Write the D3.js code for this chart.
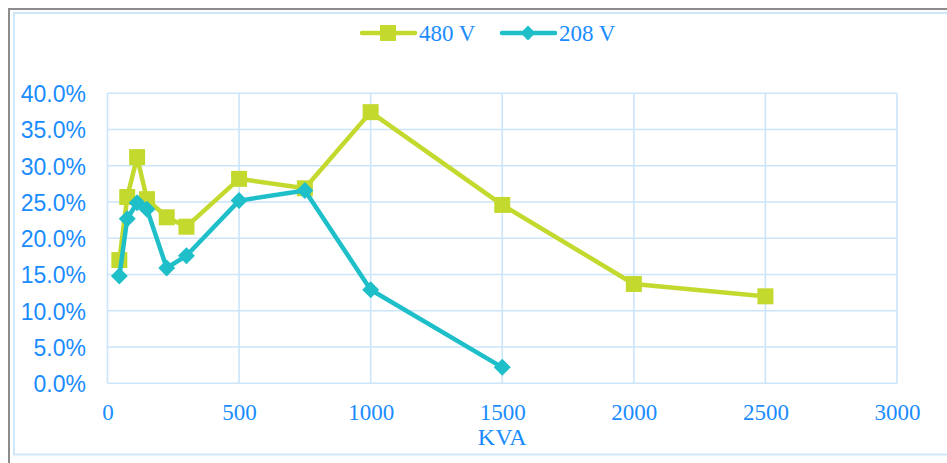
<!DOCTYPE html>
<html>
<head>
<meta charset="utf-8">
<script src="https://cdn.jsdelivr.net/npm/d3@7"></script>
<style>
  html, body { margin: 0; padding: 0; background: #fff; }
  svg { display: block; }
</style>
</head>
<body>
<svg id="chart" width="947" height="463"></svg>
<script>
// ---- data ----
const kva480 = [45, 75, 112.5, 150, 225, 300, 500, 750, 1000, 1500, 2000, 2500];
const pct480 = [0.170, 0.257, 0.312, 0.254, 0.229, 0.216, 0.282, 0.269, 0.374, 0.246, 0.137, 0.120];
const kva208 = [45, 75, 112.5, 150, 225, 300, 500, 750, 1000, 1500];
const pct208 = [0.148, 0.227, 0.249, 0.240, 0.159, 0.176, 0.252, 0.266, 0.129, 0.022];
const xTicks = [0, 500, 1000, 1500, 2000, 2500, 3000];
const yTicks = [0, 0.05, 0.10, 0.15, 0.20, 0.25, 0.30, 0.35, 0.40];
const seriesNames = ["480 V", "208 V"];
const xTitle = "KVA";

const C480 = "#c3d92e", C208 = "#1fbfca", TXT = "#1a8cff", GRID = "#cbe5fb";

const svg = d3.select("#chart");

// frame borders
svg.append("line").attr("x1", 9).attr("x2", 947).attr("y1", 9).attr("y2", 9)
  .attr("stroke", "#8c8c8c").attr("stroke-width", 2);
svg.append("line").attr("x1", 9).attr("x2", 9).attr("y1", 8).attr("y2", 463)
  .attr("stroke", "#8c8c8c").attr("stroke-width", 2);
svg.append("rect").attr("x", 14).attr("y", 13).attr("width", 940).attr("height", 441.5)
  .attr("fill", "none").attr("stroke", "#cde8fb").attr("stroke-width", 2);

const x = d3.scaleLinear().domain([0, 3000]).range([107.5, 897]);
const y = d3.scaleLinear().domain([0, 0.40]).range([383.3, 93.3]);

// grid
const grid = svg.append("g");
grid.selectAll(".hg").data(yTicks).enter().append("line")
  .attr("x1", x(0)).attr("x2", x(3000))
  .attr("y1", d => y(d)).attr("y2", d => y(d))
  .attr("stroke", GRID).attr("stroke-width", 1.6);
grid.selectAll(".vg").data(xTicks).enter().append("line")
  .attr("y1", y(0)).attr("y2", y(0.40))
  .attr("x1", d => x(d)).attr("x2", d => x(d))
  .attr("stroke", GRID).attr("stroke-width", 1.6);

// axes
const yAxis = d3.axisLeft(y).tickValues(yTicks).tickSize(0).tickPadding(0)
  .tickFormat(d3.format(".1%"));
const gy = svg.append("g").attr("transform", "translate(86,0)").call(yAxis);
gy.select(".domain").remove();
gy.selectAll("text").attr("font-family", "'Liberation Sans', Arial, sans-serif")
  .attr("font-size", 23).attr("fill", TXT).attr("dy", "0.36em");

const xAxis = d3.axisBottom(x).tickValues(xTicks).tickSize(0).tickPadding(0)
  .tickFormat(d3.format("d"));
const gx = svg.append("g").attr("transform", "translate(0,400)").call(xAxis);
gx.select(".domain").remove();
gx.selectAll("text").attr("font-family", "'Liberation Serif', 'Times New Roman', serif")
  .attr("font-size", 23).attr("fill", TXT).attr("dy", "0.85em");

svg.append("text").attr("x", (x(0) + x(3000)) / 2).attr("y", 445)
  .attr("text-anchor", "middle")
  .attr("font-family", "'Liberation Serif', 'Times New Roman', serif")
  .attr("font-size", 24).attr("fill", TXT).text(xTitle);

// series
const line = d3.line().x(d => x(d[0])).y(d => y(d[1]));
const d480 = kva480.map((k, i) => [k, pct480[i]]);
const d208 = kva208.map((k, i) => [k, pct208[i]]);

const sq = d3.symbol().type(d3.symbolSquare).size(16 * 16);
const dm = d3.symbol().type(d3.symbolSquare).size(12 * 12);

function drawSeries(data, color, sym, rot) {
  svg.append("path").datum(data).attr("d", line)
    .attr("fill", "none").attr("stroke", color).attr("stroke-width", 4.5)
    .attr("stroke-linejoin", "round").attr("stroke-linecap", "round");
  svg.append("g").selectAll("path").data(data).enter().append("path")
    .attr("d", sym)
    .attr("transform", d => `translate(${x(d[0])},${y(d[1])}) rotate(${rot})`)
    .attr("fill", color);
}
drawSeries(d480, C480, sq, 0);
drawSeries(d208, C208, dm, 45);

// legend
const leg = svg.append("g");
const legItems = [
  { name: seriesNames[0], color: C480, x1: 362, x2: 415, mx: 388, tx: 419, sym: sq, rot: 0 },
  { name: seriesNames[1], color: C208, x1: 502, x2: 555, mx: 528, tx: 559,
    sym: d3.symbol().type(d3.symbolSquare).size(10.5 * 10.5), rot: 45 }
];
const ly = 33;
legItems.forEach(it => {
  leg.append("line").attr("x1", it.x1).attr("x2", it.x2).attr("y1", ly).attr("y2", ly)
    .attr("stroke", it.color).attr("stroke-width", 4.5).attr("stroke-linecap", "round");
  leg.append("path").attr("d", it.sym)
    .attr("transform", `translate(${it.mx},${ly}) rotate(${it.rot})`).attr("fill", it.color);
  leg.append("text").attr("x", it.tx).attr("y", ly).attr("dy", "0.35em")
    .attr("font-family", "'Liberation Serif', 'Times New Roman', serif")
    .attr("font-size", 23).attr("fill", TXT).text(it.name);
});
</script>
</body>
</html>
